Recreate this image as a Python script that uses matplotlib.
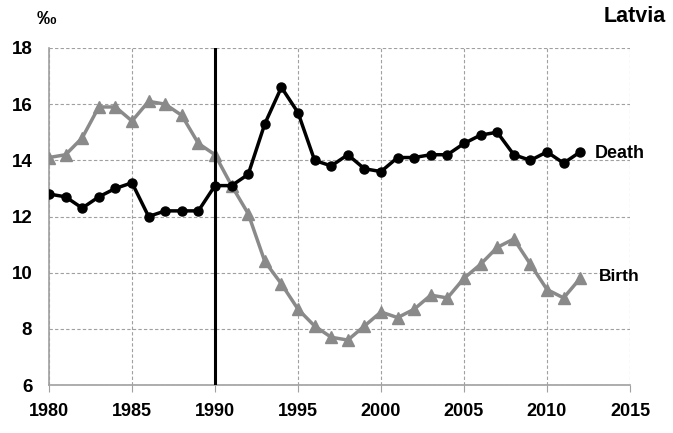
import matplotlib
matplotlib.use("Agg")
import matplotlib.pyplot as plt

years = list(range(1980, 2013))
death = [12.8, 12.7, 12.3, 12.7, 13.0, 13.2, 12.0, 12.2, 12.2, 12.2,
         13.1, 13.1, 13.5, 15.3, 16.6, 15.7, 14.0, 13.8, 14.2, 13.7,
         13.6, 14.1, 14.1, 14.2, 14.2, 14.6, 14.9, 15.0, 14.2, 14.0,
         14.3, 13.9, 14.3]
birth = [14.1, 14.2, 14.8, 15.9, 15.9, 15.4, 16.1, 16.0, 15.6, 14.6,
         14.2, 13.1, 12.1, 10.4, 9.6, 8.7, 8.1, 7.7, 7.6, 8.1,
         8.6, 8.4, 8.7, 9.2, 9.1, 9.8, 10.3, 10.9, 11.2, 10.3,
         9.4, 9.1, 9.8]
x_ticks = [1980, 1985, 1990, 1995, 2000, 2005, 2010, 2015]
y_ticks = [6, 8, 10, 12, 14, 16, 18]

plt.rcParams['font.family'] = ['Liberation Sans', 'DejaVu Sans']
fig = plt.figure(figsize=(6.73, 4.33), dpi=100)
ax = fig.add_axes([49/673, 48/433, 581/673, 337/433])

ax.plot(years, birth, color='#8a8a8a', lw=2.5, marker='^', ms=8, zorder=3)
ax.plot(years, death, color='black', lw=2.5, marker='o', ms=6.5, zorder=4)
ax.axvline(1990, color='black', lw=2.2, zorder=5)

ax.set_xlim(1980, 2015)
ax.set_ylim(6, 18)
ax.set_xticks(x_ticks)
ax.set_yticks(y_ticks)
ax.grid(True, color='#a0a0a0', ls=(0, (3, 2)), lw=0.8)
ax.set_axisbelow(True)
for s in ['top', 'right']:
    ax.spines[s].set_visible(False)
for s in ['left', 'bottom']:
    ax.spines[s].set_color('#a0a0a0')
    ax.spines[s].set_linewidth(1.2)
ax.tick_params(axis='x', length=5, color='#a0a0a0', pad=8, labelsize=13)
ax.tick_params(axis='y', length=0, pad=12, labelsize=13.5)
for lab in ax.get_xticklabels() + ax.get_yticklabels():
    lab.set_fontweight('bold')

ax.text(2012.9, death[-1] - 0.05, 'Death', fontsize=13, fontweight='bold', va='center', ha='left')
ax.text(2013.1, birth[-1] + 0.05, 'Birth', fontsize=12.5, fontweight='bold', va='center', ha='left')
fig.text(37/673, 1 - 20/433, '‰', fontsize=14, fontweight='bold', va='center', ha='left')
fig.text(666/673, 1 - 17/433, 'Latvia', fontsize=15.5, fontweight='bold', va='center', ha='right')

fig.savefig('out.png', dpi=100)
